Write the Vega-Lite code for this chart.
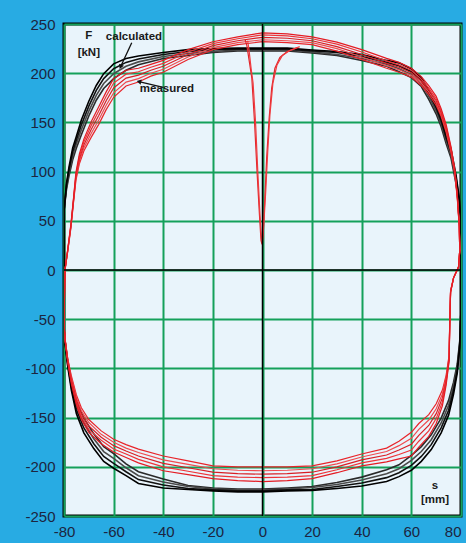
{
"$schema": "https://vega.github.io/schema/vega-lite/v6.json",
"width": 397, "height": 492,
"autosize": "none",
"padding": {"left": 64, "top": 24, "right": 5, "bottom": 27},
"background": "#28abe3",
"config": {
 "view": {"fill": "#e9f4fb", "stroke": "#000000", "strokeWidth": 3},
 "axis": {"grid": true, "gridColor": "#15a05a", "gridWidth": 2, "gridOpacity": 1, "domain": false, "ticks": false, "labelFlush": false, "labelOverlap": false, "labelFont": "Liberation Sans", "labelFontSize": 15, "labelColor": "#1c2540", "title": null}
},
"datasets": {
"calc": [
{"l":"b1","o":1,"s":-80,"F":60},{"l":"b1","o":2,"s":-79,"F":82},{"l":"b1","o":3,"s":-78,"F":95.5},{"l":"b1","o":4,"s":-76.5,"F":112},{"l":"b1","o":5,"s":-75,"F":124},{"l":"b1","o":6,"s":-73,"F":137.5},{"l":"b1","o":7,"s":-70,"F":156.5},{"l":"b1","o":8,"s":-67,"F":172.5},{"l":"b1","o":9,"s":-64,"F":184.5},{"l":"b1","o":10,"s":-60,"F":194.5},{"l":"b1","o":11,"s":-55,"F":203},{"l":"b1","o":12,"s":-50,"F":208.5},{"l":"b1","o":13,"s":-40,"F":215},{"l":"b1","o":14,"s":-30,"F":218},{"l":"b1","o":15,"s":-20,"F":221},{"l":"b1","o":16,"s":-10,"F":222.5},{"l":"b1","o":17,"s":0,"F":222.5},{"l":"b1","o":18,"s":10,"F":222.5},{"l":"b1","o":19,"s":20,"F":220.5},{"l":"b1","o":20,"s":30,"F":218},{"l":"b1","o":21,"s":40,"F":213},{"l":"b1","o":22,"s":50,"F":207},{"l":"b1","o":23,"s":55,"F":201.5},{"l":"b1","o":24,"s":60,"F":195.5},{"l":"b1","o":25,"s":64,"F":186.5},{"l":"b1","o":26,"s":67,"F":173.5},{"l":"b1","o":27,"s":70,"F":158.5},{"l":"b1","o":28,"s":72,"F":145.5},{"l":"b1","o":29,"s":74,"F":128.5},{"l":"b1","o":30,"s":76,"F":113.5},{"l":"b1","o":31,"s":78,"F":87.5},{"l":"b1","o":32,"s":79.3,"F":67},{"l":"b1","o":33,"s":80,"F":50},{"l":"b1","o":34,"s":80,"F":-40},{"l":"b1","o":35,"s":79.5,"F":-72},{"l":"b1","o":36,"s":78.5,"F":-95.5},{"l":"b1","o":37,"s":77,"F":-114},{"l":"b1","o":38,"s":75,"F":-132.5},{"l":"b1","o":39,"s":72,"F":-150.5},{"l":"b1","o":40,"s":68,"F":-167.5},{"l":"b1","o":41,"s":64,"F":-179.5},{"l":"b1","o":42,"s":60,"F":-188.5},{"l":"b1","o":43,"s":55,"F":-198},{"l":"b1","o":44,"s":50,"F":-203},{"l":"b1","o":45,"s":40,"F":-210.5},{"l":"b1","o":46,"s":30,"F":-216},{"l":"b1","o":47,"s":20,"F":-220},{"l":"b1","o":48,"s":10,"F":-221.5},{"l":"b1","o":49,"s":0,"F":-222.5},{"l":"b1","o":50,"s":-10,"F":-222.5},{"l":"b1","o":51,"s":-20,"F":-221.5},{"l":"b1","o":52,"s":-30,"F":-219},{"l":"b1","o":53,"s":-40,"F":-212.5},{"l":"b1","o":54,"s":-50,"F":-205},{"l":"b1","o":55,"s":-55,"F":-197},{"l":"b1","o":56,"s":-60,"F":-186.5},{"l":"b1","o":57,"s":-64,"F":-179.5},{"l":"b1","o":58,"s":-68,"F":-166.5},{"l":"b1","o":59,"s":-72,"F":-150.5},{"l":"b1","o":60,"s":-75,"F":-134},{"l":"b1","o":61,"s":-77,"F":-113.5},{"l":"b1","o":62,"s":-78.5,"F":-92},{"l":"b1","o":63,"s":-79.5,"F":-73.5},{"l":"b1","o":64,"s":-80,"F":-60},{"l":"b1","o":65,"s":-80,"F":60},
{"l":"b2","o":1,"s":-80,"F":60},{"l":"b2","o":2,"s":-79,"F":84},{"l":"b2","o":3,"s":-78,"F":98.5},{"l":"b2","o":4,"s":-76.5,"F":116},{"l":"b2","o":5,"s":-75,"F":128},{"l":"b2","o":6,"s":-73,"F":142.5},{"l":"b2","o":7,"s":-70,"F":161.5},{"l":"b2","o":8,"s":-67,"F":177.5},{"l":"b2","o":9,"s":-64,"F":189.5},{"l":"b2","o":10,"s":-60,"F":199.5},{"l":"b2","o":11,"s":-55,"F":207},{"l":"b2","o":12,"s":-50,"F":211.5},{"l":"b2","o":13,"s":-40,"F":217},{"l":"b2","o":14,"s":-30,"F":220},{"l":"b2","o":15,"s":-20,"F":222},{"l":"b2","o":16,"s":-10,"F":223.5},{"l":"b2","o":17,"s":0,"F":223.5},{"l":"b2","o":18,"s":10,"F":223.5},{"l":"b2","o":19,"s":20,"F":221.5},{"l":"b2","o":20,"s":30,"F":219},{"l":"b2","o":21,"s":40,"F":215},{"l":"b2","o":22,"s":50,"F":209},{"l":"b2","o":23,"s":55,"F":204.5},{"l":"b2","o":24,"s":60,"F":198.5},{"l":"b2","o":25,"s":64,"F":189.5},{"l":"b2","o":26,"s":67,"F":176.5},{"l":"b2","o":27,"s":70,"F":161.5},{"l":"b2","o":28,"s":72,"F":148.5},{"l":"b2","o":29,"s":74,"F":131.5},{"l":"b2","o":30,"s":76,"F":116.5},{"l":"b2","o":31,"s":78,"F":90.5},{"l":"b2","o":32,"s":79.3,"F":69},{"l":"b2","o":33,"s":80,"F":50},{"l":"b2","o":34,"s":80,"F":-40},{"l":"b2","o":35,"s":79.5,"F":-74},{"l":"b2","o":36,"s":78.5,"F":-98.5},{"l":"b2","o":37,"s":77,"F":-118},{"l":"b2","o":38,"s":75,"F":-137.5},{"l":"b2","o":39,"s":72,"F":-155.5},{"l":"b2","o":40,"s":68,"F":-172.5},{"l":"b2","o":41,"s":64,"F":-184.5},{"l":"b2","o":42,"s":60,"F":-193.5},{"l":"b2","o":43,"s":55,"F":-202},{"l":"b2","o":44,"s":50,"F":-207},{"l":"b2","o":45,"s":40,"F":-213.5},{"l":"b2","o":46,"s":30,"F":-218},{"l":"b2","o":47,"s":20,"F":-221},{"l":"b2","o":48,"s":10,"F":-222.5},{"l":"b2","o":49,"s":0,"F":-223.5},{"l":"b2","o":50,"s":-10,"F":-223.5},{"l":"b2","o":51,"s":-20,"F":-222.5},{"l":"b2","o":52,"s":-30,"F":-220},{"l":"b2","o":53,"s":-40,"F":-215.5},{"l":"b2","o":54,"s":-50,"F":-209},{"l":"b2","o":55,"s":-55,"F":-201},{"l":"b2","o":56,"s":-60,"F":-191.5},{"l":"b2","o":57,"s":-64,"F":-184.5},{"l":"b2","o":58,"s":-68,"F":-171.5},{"l":"b2","o":59,"s":-72,"F":-155.5},{"l":"b2","o":60,"s":-75,"F":-138},{"l":"b2","o":61,"s":-77,"F":-116.5},{"l":"b2","o":62,"s":-78.5,"F":-94},{"l":"b2","o":63,"s":-79.5,"F":-74.5},{"l":"b2","o":64,"s":-80,"F":-60},{"l":"b2","o":65,"s":-80,"F":60},
{"l":"b3","o":1,"s":-80,"F":60},{"l":"b3","o":2,"s":-79,"F":86},{"l":"b3","o":3,"s":-78,"F":101.5},{"l":"b3","o":4,"s":-76.5,"F":120},{"l":"b3","o":5,"s":-75,"F":132},{"l":"b3","o":6,"s":-73,"F":147.5},{"l":"b3","o":7,"s":-70,"F":166.5},{"l":"b3","o":8,"s":-67,"F":182.5},{"l":"b3","o":9,"s":-64,"F":194.5},{"l":"b3","o":10,"s":-60,"F":204.5},{"l":"b3","o":11,"s":-55,"F":211},{"l":"b3","o":12,"s":-50,"F":214.5},{"l":"b3","o":13,"s":-40,"F":219},{"l":"b3","o":14,"s":-30,"F":222},{"l":"b3","o":15,"s":-20,"F":224},{"l":"b3","o":16,"s":-10,"F":224.5},{"l":"b3","o":17,"s":0,"F":224.5},{"l":"b3","o":18,"s":10,"F":224.5},{"l":"b3","o":19,"s":20,"F":222.5},{"l":"b3","o":20,"s":30,"F":221},{"l":"b3","o":21,"s":40,"F":217},{"l":"b3","o":22,"s":50,"F":211},{"l":"b3","o":23,"s":55,"F":207.5},{"l":"b3","o":24,"s":60,"F":201.5},{"l":"b3","o":25,"s":64,"F":192.5},{"l":"b3","o":26,"s":67,"F":179.5},{"l":"b3","o":27,"s":70,"F":164.5},{"l":"b3","o":28,"s":72,"F":151.5},{"l":"b3","o":29,"s":74,"F":134.5},{"l":"b3","o":30,"s":76,"F":119.5},{"l":"b3","o":31,"s":78,"F":93.5},{"l":"b3","o":32,"s":79.3,"F":71},{"l":"b3","o":33,"s":80,"F":50},{"l":"b3","o":34,"s":80,"F":-40},{"l":"b3","o":35,"s":79.5,"F":-76},{"l":"b3","o":36,"s":78.5,"F":-101.5},{"l":"b3","o":37,"s":77,"F":-122},{"l":"b3","o":38,"s":75,"F":-142.5},{"l":"b3","o":39,"s":72,"F":-160.5},{"l":"b3","o":40,"s":68,"F":-177.5},{"l":"b3","o":41,"s":64,"F":-189.5},{"l":"b3","o":42,"s":60,"F":-198.5},{"l":"b3","o":43,"s":55,"F":-206},{"l":"b3","o":44,"s":50,"F":-211},{"l":"b3","o":45,"s":40,"F":-216.5},{"l":"b3","o":46,"s":30,"F":-220},{"l":"b3","o":47,"s":20,"F":-223},{"l":"b3","o":48,"s":10,"F":-223.5},{"l":"b3","o":49,"s":0,"F":-224.5},{"l":"b3","o":50,"s":-10,"F":-224.5},{"l":"b3","o":51,"s":-20,"F":-223.5},{"l":"b3","o":52,"s":-30,"F":-222},{"l":"b3","o":53,"s":-40,"F":-218.5},{"l":"b3","o":54,"s":-50,"F":-213},{"l":"b3","o":55,"s":-55,"F":-205},{"l":"b3","o":56,"s":-60,"F":-196.5},{"l":"b3","o":57,"s":-64,"F":-189.5},{"l":"b3","o":58,"s":-68,"F":-176.5},{"l":"b3","o":59,"s":-72,"F":-160.5},{"l":"b3","o":60,"s":-75,"F":-142},{"l":"b3","o":61,"s":-77,"F":-119.5},{"l":"b3","o":62,"s":-78.5,"F":-96},{"l":"b3","o":63,"s":-79.5,"F":-75.5},{"l":"b3","o":64,"s":-80,"F":-60},{"l":"b3","o":65,"s":-80,"F":60},
{"l":"b4","o":1,"s":-80,"F":60},{"l":"b4","o":2,"s":-79,"F":88},{"l":"b4","o":3,"s":-78,"F":104.5},{"l":"b4","o":4,"s":-76.5,"F":124},{"l":"b4","o":5,"s":-75,"F":136},{"l":"b4","o":6,"s":-73,"F":152.5},{"l":"b4","o":7,"s":-70,"F":171.5},{"l":"b4","o":8,"s":-67,"F":187.5},{"l":"b4","o":9,"s":-64,"F":199.5},{"l":"b4","o":10,"s":-60,"F":209.5},{"l":"b4","o":11,"s":-55,"F":215},{"l":"b4","o":12,"s":-50,"F":217.5},{"l":"b4","o":13,"s":-40,"F":221},{"l":"b4","o":14,"s":-30,"F":224},{"l":"b4","o":15,"s":-20,"F":225},{"l":"b4","o":16,"s":-10,"F":225.5},{"l":"b4","o":17,"s":0,"F":225.5},{"l":"b4","o":18,"s":10,"F":225.5},{"l":"b4","o":19,"s":20,"F":223.5},{"l":"b4","o":20,"s":30,"F":222},{"l":"b4","o":21,"s":40,"F":219},{"l":"b4","o":22,"s":50,"F":213},{"l":"b4","o":23,"s":55,"F":210.5},{"l":"b4","o":24,"s":60,"F":204.5},{"l":"b4","o":25,"s":64,"F":195.5},{"l":"b4","o":26,"s":67,"F":182.5},{"l":"b4","o":27,"s":70,"F":167.5},{"l":"b4","o":28,"s":72,"F":154.5},{"l":"b4","o":29,"s":74,"F":137.5},{"l":"b4","o":30,"s":76,"F":122.5},{"l":"b4","o":31,"s":78,"F":96.5},{"l":"b4","o":32,"s":79.3,"F":73},{"l":"b4","o":33,"s":80,"F":50},{"l":"b4","o":34,"s":80,"F":-40},{"l":"b4","o":35,"s":79.5,"F":-78},{"l":"b4","o":36,"s":78.5,"F":-104.5},{"l":"b4","o":37,"s":77,"F":-126},{"l":"b4","o":38,"s":75,"F":-147.5},{"l":"b4","o":39,"s":72,"F":-165.5},{"l":"b4","o":40,"s":68,"F":-182.5},{"l":"b4","o":41,"s":64,"F":-194.5},{"l":"b4","o":42,"s":60,"F":-203.5},{"l":"b4","o":43,"s":55,"F":-210},{"l":"b4","o":44,"s":50,"F":-215},{"l":"b4","o":45,"s":40,"F":-219.5},{"l":"b4","o":46,"s":30,"F":-222},{"l":"b4","o":47,"s":20,"F":-224},{"l":"b4","o":48,"s":10,"F":-224.5},{"l":"b4","o":49,"s":0,"F":-225.5},{"l":"b4","o":50,"s":-10,"F":-225.5},{"l":"b4","o":51,"s":-20,"F":-224.5},{"l":"b4","o":52,"s":-30,"F":-223},{"l":"b4","o":53,"s":-40,"F":-221.5},{"l":"b4","o":54,"s":-50,"F":-217},{"l":"b4","o":55,"s":-55,"F":-209},{"l":"b4","o":56,"s":-60,"F":-201.5},{"l":"b4","o":57,"s":-64,"F":-194.5},{"l":"b4","o":58,"s":-68,"F":-181.5},{"l":"b4","o":59,"s":-72,"F":-165.5},{"l":"b4","o":60,"s":-75,"F":-146},{"l":"b4","o":61,"s":-77,"F":-122.5},{"l":"b4","o":62,"s":-78.5,"F":-98},{"l":"b4","o":63,"s":-79.5,"F":-76.5},{"l":"b4","o":64,"s":-80,"F":-60},{"l":"b4","o":65,"s":-80,"F":60}
],
"meas": [
{"l":"r1","o":1,"s":-79.6,"F":0},{"l":"r1","o":2,"s":-78.5,"F":19},{"l":"r1","o":3,"s":-77.2,"F":43},{"l":"r1","o":4,"s":-76.2,"F":68},{"l":"r1","o":5,"s":-75.2,"F":91},{"l":"r1","o":6,"s":-73.8,"F":108},{"l":"r1","o":7,"s":-72,"F":121},{"l":"r1","o":8,"s":-69,"F":135},{"l":"r1","o":9,"s":-66,"F":148},{"l":"r1","o":10,"s":-63,"F":163},{"l":"r1","o":11,"s":-60,"F":175.5},{"l":"r1","o":12,"s":-55,"F":187},{"l":"r1","o":13,"s":-50,"F":191},{"l":"r1","o":14,"s":-45,"F":197},{"l":"r1","o":15,"s":-40,"F":201},{"l":"r1","o":16,"s":-30,"F":214},{"l":"r1","o":17,"s":-20,"F":224},{"l":"r1","o":18,"s":-10,"F":229},{"l":"r1","o":19,"s":0,"F":232},{"l":"r1","o":20,"s":10,"F":231},{"l":"r1","o":21,"s":20,"F":229},{"l":"r1","o":22,"s":30,"F":222.5},{"l":"r1","o":23,"s":40,"F":214},{"l":"r1","o":24,"s":50,"F":205},{"l":"r1","o":25,"s":55,"F":201},{"l":"r1","o":26,"s":60,"F":196},{"l":"r1","o":27,"s":64,"F":187.5},{"l":"r1","o":28,"s":67,"F":178.5},{"l":"r1","o":29,"s":70,"F":167.5},{"l":"r1","o":30,"s":72,"F":156},{"l":"r1","o":31,"s":74,"F":140},{"l":"r1","o":32,"s":76,"F":119},{"l":"r1","o":33,"s":77.5,"F":98},{"l":"r1","o":34,"s":78.5,"F":73},{"l":"r1","o":35,"s":79.3,"F":44},{"l":"r1","o":36,"s":79.5,"F":20},{"l":"r1","o":37,"s":79,"F":3},{"l":"r1","o":38,"s":77,"F":-8},{"l":"r1","o":39,"s":75.8,"F":-21},{"l":"r1","o":40,"s":75.5,"F":-48},{"l":"r1","o":41,"s":75.2,"F":-87},{"l":"r1","o":42,"s":74,"F":-107},{"l":"r1","o":43,"s":72.5,"F":-122},{"l":"r1","o":44,"s":70,"F":-136},{"l":"r1","o":45,"s":67,"F":-147},{"l":"r1","o":46,"s":63,"F":-156},{"l":"r1","o":47,"s":60,"F":-165},{"l":"r1","o":48,"s":55,"F":-174},{"l":"r1","o":49,"s":50,"F":-181},{"l":"r1","o":50,"s":40,"F":-187},{"l":"r1","o":51,"s":30,"F":-194},{"l":"r1","o":52,"s":20,"F":-199},{"l":"r1","o":53,"s":10,"F":-200},{"l":"r1","o":54,"s":0,"F":-200},{"l":"r1","o":55,"s":-10,"F":-200},{"l":"r1","o":56,"s":-20,"F":-199},{"l":"r1","o":57,"s":-30,"F":-194},{"l":"r1","o":58,"s":-40,"F":-189},{"l":"r1","o":59,"s":-50,"F":-182},{"l":"r1","o":60,"s":-55,"F":-177.5},{"l":"r1","o":61,"s":-60,"F":-172},{"l":"r1","o":62,"s":-65,"F":-163.5},{"l":"r1","o":63,"s":-70,"F":-152},{"l":"r1","o":64,"s":-73,"F":-140},{"l":"r1","o":65,"s":-75,"F":-127},{"l":"r1","o":66,"s":-77,"F":-108},{"l":"r1","o":67,"s":-78.5,"F":-90},{"l":"r1","o":68,"s":-79.5,"F":-71},{"l":"r1","o":69,"s":-80,"F":-55},{"l":"r1","o":70,"s":-79.8,"F":-25},{"l":"r1","o":71,"s":-79.6,"F":0},
{"l":"r2","o":1,"s":-79.6,"F":0},{"l":"r2","o":2,"s":-78.5,"F":19.5},{"l":"r2","o":3,"s":-77.2,"F":44},{"l":"r2","o":4,"s":-76.2,"F":69},{"l":"r2","o":5,"s":-75.2,"F":93},{"l":"r2","o":6,"s":-73.8,"F":110.5},{"l":"r2","o":7,"s":-72,"F":124},{"l":"r2","o":8,"s":-69,"F":139},{"l":"r2","o":9,"s":-66,"F":152.5},{"l":"r2","o":10,"s":-63,"F":167.5},{"l":"r2","o":11,"s":-60,"F":180},{"l":"r2","o":12,"s":-55,"F":191},{"l":"r2","o":13,"s":-50,"F":194.5},{"l":"r2","o":14,"s":-45,"F":200},{"l":"r2","o":15,"s":-40,"F":204},{"l":"r2","o":16,"s":-30,"F":216.5},{"l":"r2","o":17,"s":-20,"F":226},{"l":"r2","o":18,"s":-10,"F":231},{"l":"r2","o":19,"s":0,"F":234},{"l":"r2","o":20,"s":10,"F":233},{"l":"r2","o":21,"s":20,"F":231},{"l":"r2","o":22,"s":30,"F":225},{"l":"r2","o":23,"s":40,"F":216.5},{"l":"r2","o":24,"s":50,"F":207.5},{"l":"r2","o":25,"s":55,"F":203.5},{"l":"r2","o":26,"s":60,"F":198},{"l":"r2","o":27,"s":64,"F":190},{"l":"r2","o":28,"s":67,"F":181},{"l":"r2","o":29,"s":70,"F":170},{"l":"r2","o":30,"s":72,"F":158},{"l":"r2","o":31,"s":74,"F":142},{"l":"r2","o":32,"s":76,"F":120.5},{"l":"r2","o":33,"s":77.5,"F":99},{"l":"r2","o":34,"s":78.5,"F":74},{"l":"r2","o":35,"s":79.3,"F":44.5},{"l":"r2","o":36,"s":79.5,"F":20},{"l":"r2","o":37,"s":79,"F":3},{"l":"r2","o":38,"s":77,"F":-8},{"l":"r2","o":39,"s":75.8,"F":-21.5},{"l":"r2","o":40,"s":75.5,"F":-49},{"l":"r2","o":41,"s":75.2,"F":-88.5},{"l":"r2","o":42,"s":74,"F":-109.5},{"l":"r2","o":43,"s":72.5,"F":-126},{"l":"r2","o":44,"s":70,"F":-141},{"l":"r2","o":45,"s":67,"F":-152.5},{"l":"r2","o":46,"s":63,"F":-162},{"l":"r2","o":47,"s":60,"F":-171},{"l":"r2","o":48,"s":55,"F":-178.5},{"l":"r2","o":49,"s":50,"F":-184.5},{"l":"r2","o":50,"s":40,"F":-190},{"l":"r2","o":51,"s":30,"F":-197},{"l":"r2","o":52,"s":20,"F":-202},{"l":"r2","o":53,"s":10,"F":-203.5},{"l":"r2","o":54,"s":0,"F":-204},{"l":"r2","o":55,"s":-10,"F":-203.5},{"l":"r2","o":56,"s":-20,"F":-202},{"l":"r2","o":57,"s":-30,"F":-197.5},{"l":"r2","o":58,"s":-40,"F":-193},{"l":"r2","o":59,"s":-50,"F":-185.5},{"l":"r2","o":60,"s":-55,"F":-181},{"l":"r2","o":61,"s":-60,"F":-175},{"l":"r2","o":62,"s":-65,"F":-167},{"l":"r2","o":63,"s":-70,"F":-155},{"l":"r2","o":64,"s":-73,"F":-143},{"l":"r2","o":65,"s":-75,"F":-129.5},{"l":"r2","o":66,"s":-77,"F":-110},{"l":"r2","o":67,"s":-78.5,"F":-91},{"l":"r2","o":68,"s":-79.5,"F":-71.5},{"l":"r2","o":69,"s":-80,"F":-55},{"l":"r2","o":70,"s":-79.8,"F":-25},{"l":"r2","o":71,"s":-79.6,"F":0},
{"l":"r3","o":1,"s":-79.6,"F":0},{"l":"r3","o":2,"s":-78.5,"F":20},{"l":"r3","o":3,"s":-77.2,"F":45},{"l":"r3","o":4,"s":-76.2,"F":70},{"l":"r3","o":5,"s":-75.2,"F":95},{"l":"r3","o":6,"s":-73.8,"F":113},{"l":"r3","o":7,"s":-72,"F":127},{"l":"r3","o":8,"s":-69,"F":143},{"l":"r3","o":9,"s":-66,"F":157},{"l":"r3","o":10,"s":-63,"F":172},{"l":"r3","o":11,"s":-60,"F":185},{"l":"r3","o":12,"s":-55,"F":195},{"l":"r3","o":13,"s":-50,"F":198},{"l":"r3","o":14,"s":-45,"F":203},{"l":"r3","o":15,"s":-40,"F":207},{"l":"r3","o":16,"s":-30,"F":219},{"l":"r3","o":17,"s":-20,"F":228},{"l":"r3","o":18,"s":-10,"F":233},{"l":"r3","o":19,"s":0,"F":236.5},{"l":"r3","o":20,"s":10,"F":235.5},{"l":"r3","o":21,"s":20,"F":233},{"l":"r3","o":22,"s":30,"F":227},{"l":"r3","o":23,"s":40,"F":219},{"l":"r3","o":24,"s":50,"F":210},{"l":"r3","o":25,"s":55,"F":206},{"l":"r3","o":26,"s":60,"F":200.5},{"l":"r3","o":27,"s":64,"F":192},{"l":"r3","o":28,"s":67,"F":183},{"l":"r3","o":29,"s":70,"F":172},{"l":"r3","o":30,"s":72,"F":160},{"l":"r3","o":31,"s":74,"F":144},{"l":"r3","o":32,"s":76,"F":122},{"l":"r3","o":33,"s":77.5,"F":100},{"l":"r3","o":34,"s":78.5,"F":75},{"l":"r3","o":35,"s":79.3,"F":45},{"l":"r3","o":36,"s":79.5,"F":20},{"l":"r3","o":37,"s":79,"F":3},{"l":"r3","o":38,"s":77,"F":-8},{"l":"r3","o":39,"s":75.8,"F":-22},{"l":"r3","o":40,"s":75.5,"F":-50},{"l":"r3","o":41,"s":75.2,"F":-90},{"l":"r3","o":42,"s":74,"F":-112},{"l":"r3","o":43,"s":72.5,"F":-130},{"l":"r3","o":44,"s":70,"F":-146},{"l":"r3","o":45,"s":67,"F":-158},{"l":"r3","o":46,"s":63,"F":-168},{"l":"r3","o":47,"s":60,"F":-177},{"l":"r3","o":48,"s":55,"F":-183},{"l":"r3","o":49,"s":50,"F":-188},{"l":"r3","o":50,"s":40,"F":-193},{"l":"r3","o":51,"s":30,"F":-200},{"l":"r3","o":52,"s":20,"F":-205.5},{"l":"r3","o":53,"s":10,"F":-207},{"l":"r3","o":54,"s":0,"F":-207.5},{"l":"r3","o":55,"s":-10,"F":-207},{"l":"r3","o":56,"s":-20,"F":-205.5},{"l":"r3","o":57,"s":-30,"F":-201},{"l":"r3","o":58,"s":-40,"F":-196.5},{"l":"r3","o":59,"s":-50,"F":-189},{"l":"r3","o":60,"s":-55,"F":-184},{"l":"r3","o":61,"s":-60,"F":-178.5},{"l":"r3","o":62,"s":-65,"F":-170},{"l":"r3","o":63,"s":-70,"F":-158.5},{"l":"r3","o":64,"s":-73,"F":-146},{"l":"r3","o":65,"s":-75,"F":-132},{"l":"r3","o":66,"s":-77,"F":-112},{"l":"r3","o":67,"s":-78.5,"F":-92},{"l":"r3","o":68,"s":-79.5,"F":-72},{"l":"r3","o":69,"s":-80,"F":-55},{"l":"r3","o":70,"s":-79.8,"F":-25},{"l":"r3","o":71,"s":-79.6,"F":0},
{"l":"r4","o":1,"s":-79.6,"F":0},{"l":"r4","o":2,"s":-78.5,"F":20.5},{"l":"r4","o":3,"s":-77.2,"F":46},{"l":"r4","o":4,"s":-76.2,"F":71},{"l":"r4","o":5,"s":-75.2,"F":97},{"l":"r4","o":6,"s":-73.8,"F":115.5},{"l":"r4","o":7,"s":-72,"F":130},{"l":"r4","o":8,"s":-69,"F":147},{"l":"r4","o":9,"s":-66,"F":161.5},{"l":"r4","o":10,"s":-63,"F":176.5},{"l":"r4","o":11,"s":-60,"F":190},{"l":"r4","o":12,"s":-55,"F":199},{"l":"r4","o":13,"s":-50,"F":201.5},{"l":"r4","o":14,"s":-45,"F":206},{"l":"r4","o":15,"s":-40,"F":210},{"l":"r4","o":16,"s":-30,"F":221.5},{"l":"r4","o":17,"s":-20,"F":230},{"l":"r4","o":18,"s":-10,"F":235},{"l":"r4","o":19,"s":0,"F":239},{"l":"r4","o":20,"s":10,"F":238},{"l":"r4","o":21,"s":20,"F":235},{"l":"r4","o":22,"s":30,"F":229.5},{"l":"r4","o":23,"s":40,"F":221.5},{"l":"r4","o":24,"s":50,"F":212.5},{"l":"r4","o":25,"s":55,"F":208.5},{"l":"r4","o":26,"s":60,"F":203},{"l":"r4","o":27,"s":64,"F":194},{"l":"r4","o":28,"s":67,"F":185},{"l":"r4","o":29,"s":70,"F":174},{"l":"r4","o":30,"s":72,"F":162},{"l":"r4","o":31,"s":74,"F":146},{"l":"r4","o":32,"s":76,"F":123.5},{"l":"r4","o":33,"s":77.5,"F":101},{"l":"r4","o":34,"s":78.5,"F":76},{"l":"r4","o":35,"s":79.3,"F":45.5},{"l":"r4","o":36,"s":79.5,"F":20},{"l":"r4","o":37,"s":79,"F":3},{"l":"r4","o":38,"s":77,"F":-8},{"l":"r4","o":39,"s":75.8,"F":-22.5},{"l":"r4","o":40,"s":75.5,"F":-51},{"l":"r4","o":41,"s":75.2,"F":-91.5},{"l":"r4","o":42,"s":74,"F":-114.5},{"l":"r4","o":43,"s":72.5,"F":-134},{"l":"r4","o":44,"s":70,"F":-151},{"l":"r4","o":45,"s":67,"F":-163.5},{"l":"r4","o":46,"s":63,"F":-174},{"l":"r4","o":47,"s":60,"F":-183},{"l":"r4","o":48,"s":55,"F":-187.5},{"l":"r4","o":49,"s":50,"F":-191.5},{"l":"r4","o":50,"s":40,"F":-196},{"l":"r4","o":51,"s":30,"F":-203},{"l":"r4","o":52,"s":20,"F":-209},{"l":"r4","o":53,"s":10,"F":-210.5},{"l":"r4","o":54,"s":0,"F":-211},{"l":"r4","o":55,"s":-10,"F":-210.5},{"l":"r4","o":56,"s":-20,"F":-209},{"l":"r4","o":57,"s":-30,"F":-204.5},{"l":"r4","o":58,"s":-40,"F":-200},{"l":"r4","o":59,"s":-50,"F":-192.5},{"l":"r4","o":60,"s":-55,"F":-187},{"l":"r4","o":61,"s":-60,"F":-182},{"l":"r4","o":62,"s":-65,"F":-173},{"l":"r4","o":63,"s":-70,"F":-162},{"l":"r4","o":64,"s":-73,"F":-149},{"l":"r4","o":65,"s":-75,"F":-134.5},{"l":"r4","o":66,"s":-77,"F":-114},{"l":"r4","o":67,"s":-78.5,"F":-93},{"l":"r4","o":68,"s":-79.5,"F":-72.5},{"l":"r4","o":69,"s":-80,"F":-55},{"l":"r4","o":70,"s":-79.8,"F":-25},{"l":"r4","o":71,"s":-79.6,"F":0},
{"l":"r5","o":1,"s":-79.6,"F":0},{"l":"r5","o":2,"s":-78.5,"F":21},{"l":"r5","o":3,"s":-77.2,"F":47},{"l":"r5","o":4,"s":-76.2,"F":72},{"l":"r5","o":5,"s":-75.2,"F":99},{"l":"r5","o":6,"s":-73.8,"F":118},{"l":"r5","o":7,"s":-72,"F":133},{"l":"r5","o":8,"s":-69,"F":151},{"l":"r5","o":9,"s":-66,"F":166},{"l":"r5","o":10,"s":-63,"F":181},{"l":"r5","o":11,"s":-60,"F":194.5},{"l":"r5","o":12,"s":-55,"F":203},{"l":"r5","o":13,"s":-50,"F":205},{"l":"r5","o":14,"s":-45,"F":209},{"l":"r5","o":15,"s":-40,"F":213},{"l":"r5","o":16,"s":-30,"F":224},{"l":"r5","o":17,"s":-20,"F":232},{"l":"r5","o":18,"s":-10,"F":237},{"l":"r5","o":19,"s":0,"F":241},{"l":"r5","o":20,"s":10,"F":240},{"l":"r5","o":21,"s":20,"F":237},{"l":"r5","o":22,"s":30,"F":231.5},{"l":"r5","o":23,"s":40,"F":224},{"l":"r5","o":24,"s":50,"F":215},{"l":"r5","o":25,"s":55,"F":211},{"l":"r5","o":26,"s":60,"F":205},{"l":"r5","o":27,"s":64,"F":196.5},{"l":"r5","o":28,"s":67,"F":187.5},{"l":"r5","o":29,"s":70,"F":176.5},{"l":"r5","o":30,"s":72,"F":164},{"l":"r5","o":31,"s":74,"F":148},{"l":"r5","o":32,"s":76,"F":125},{"l":"r5","o":33,"s":77.5,"F":102},{"l":"r5","o":34,"s":78.5,"F":77},{"l":"r5","o":35,"s":79.3,"F":46},{"l":"r5","o":36,"s":79.5,"F":20},{"l":"r5","o":37,"s":79,"F":3},{"l":"r5","o":38,"s":77,"F":-8},{"l":"r5","o":39,"s":75.8,"F":-23},{"l":"r5","o":40,"s":75.5,"F":-52},{"l":"r5","o":41,"s":75.2,"F":-93},{"l":"r5","o":42,"s":74,"F":-117},{"l":"r5","o":43,"s":72.5,"F":-138},{"l":"r5","o":44,"s":70,"F":-156},{"l":"r5","o":45,"s":67,"F":-169},{"l":"r5","o":46,"s":63,"F":-180},{"l":"r5","o":47,"s":60,"F":-189},{"l":"r5","o":48,"s":55,"F":-192},{"l":"r5","o":49,"s":50,"F":-195},{"l":"r5","o":50,"s":40,"F":-199},{"l":"r5","o":51,"s":30,"F":-206},{"l":"r5","o":52,"s":20,"F":-212},{"l":"r5","o":53,"s":10,"F":-214},{"l":"r5","o":54,"s":0,"F":-215},{"l":"r5","o":55,"s":-10,"F":-214},{"l":"r5","o":56,"s":-20,"F":-212},{"l":"r5","o":57,"s":-30,"F":-208},{"l":"r5","o":58,"s":-40,"F":-204},{"l":"r5","o":59,"s":-50,"F":-196},{"l":"r5","o":60,"s":-55,"F":-190.5},{"l":"r5","o":61,"s":-60,"F":-185},{"l":"r5","o":62,"s":-65,"F":-176.5},{"l":"r5","o":63,"s":-70,"F":-165},{"l":"r5","o":64,"s":-73,"F":-152},{"l":"r5","o":65,"s":-75,"F":-137},{"l":"r5","o":66,"s":-77,"F":-116},{"l":"r5","o":67,"s":-78.5,"F":-94},{"l":"r5","o":68,"s":-79.5,"F":-73},{"l":"r5","o":69,"s":-80,"F":-55},{"l":"r5","o":70,"s":-79.8,"F":-25},{"l":"r5","o":71,"s":-79.6,"F":0},
{"l":"v1","o":1,"s":-7,"F":234},{"l":"v1","o":2,"s":-6.3,"F":228},{"l":"v1","o":3,"s":-5.2,"F":210},{"l":"v1","o":4,"s":-4.3,"F":195},{"l":"v1","o":5,"s":-3.2,"F":150},{"l":"v1","o":6,"s":-2.2,"F":100},{"l":"v1","o":7,"s":-1.2,"F":55},{"l":"v1","o":8,"s":-0.6,"F":30},{"l":"v1","o":9,"s":-0.2,"F":26},{"l":"v1","o":10,"s":0.3,"F":40},{"l":"v1","o":11,"s":1,"F":75},{"l":"v1","o":12,"s":1.7,"F":115},{"l":"v1","o":13,"s":2.7,"F":155},{"l":"v1","o":14,"s":3.7,"F":185},{"l":"v1","o":15,"s":5,"F":205},{"l":"v1","o":16,"s":7,"F":216},{"l":"v1","o":17,"s":10,"F":222},{"l":"v1","o":18,"s":14,"F":226},
{"l":"v2","o":1,"s":-6,"F":233},{"l":"v2","o":2,"s":-5.5,"F":225},{"l":"v2","o":3,"s":-4.6,"F":205},{"l":"v2","o":4,"s":-3.8,"F":190},{"l":"v2","o":5,"s":-2.8,"F":150},{"l":"v2","o":6,"s":-1.9,"F":100},{"l":"v2","o":7,"s":-1,"F":55},{"l":"v2","o":8,"s":-0.4,"F":32},{"l":"v2","o":9,"s":0,"F":28},{"l":"v2","o":10,"s":0.5,"F":45},{"l":"v2","o":11,"s":1.3,"F":80},{"l":"v2","o":12,"s":2.1,"F":120},{"l":"v2","o":13,"s":3,"F":158},{"l":"v2","o":14,"s":4.2,"F":190},{"l":"v2","o":15,"s":5.8,"F":208},{"l":"v2","o":16,"s":8,"F":218},{"l":"v2","o":17,"s":11,"F":223},{"l":"v2","o":18,"s":15,"F":227}
],
"arrows": [
{"s":-52.7,"F":231,"s2":-57.2,"F2":206.5,"a":204},
{"s":-40,"F":185.7,"s2":-49.8,"F2":191.5,"a":283}
],
"labels": [
{"t":"F","s":-70,"F":237.5,"al":"center"},
{"t":"[kN]","s":-70,"F":221,"al":"center"},
{"t":"calculated","s":-51.8,"F":236.8,"al":"left"},
{"t":"measured","s":-38.5,"F":184,"al":"left"},
{"t":"s","s":69.5,"F":-219.5,"al":"center"},
{"t":"[mm]","s":69.5,"F":-233.5,"al":"center"}
]
},
"layer": [
{
 "data": {"name": "calc"},
 "mark": {"type": "line", "strokeWidth": 1.6, "clip": true},
 "encoding": {
  "x": {"field": "s", "type": "quantitative", "scale": {"domain": [-80, 80], "nice": false, "zero": false},
        "axis": {"values": [-80,-60,-40,-20,0,20,40,60,80], "labelPadding": 8,
                 "labelAlign": {"condition": {"test": "datum.value == 80", "value": "right"}, "value": "center"},
                 "labelExpr": "datum.value < 0 ? '-' + abs(datum.value) : '' + datum.value"}},
  "y": {"field": "F", "type": "quantitative", "scale": {"domain": [-250, 250], "nice": false, "zero": false},
        "axis": {"values": [-250,-200,-150,-100,-50,0,50,100,150,200,250], "labelPadding": 9, "labelExpr": "datum.value < 0 ? '-' + abs(datum.value) : '' + datum.value"}},
  "detail": {"field": "l"},
  "order": {"field": "o", "type": "quantitative"},
  "color": {"field": "l", "type": "nominal", "legend": null,
            "scale": {"domain": ["b1","b2","b3","b4"], "range": ["#2a2a2a","#4a4a4a","#111111","#000000"]}}
 }
},
{
 "data": {"name": "meas"},
 "mark": {"type": "line", "strokeWidth": 1.2, "clip": true},
 "encoding": {
  "x": {"field": "s", "type": "quantitative"},
  "y": {"field": "F", "type": "quantitative"},
  "detail": {"field": "l"},
  "order": {"field": "o", "type": "quantitative"},
  "color": {"field": "l", "type": "nominal", "legend": null,
            "scale": {"domain": ["r1","r2","r3","r4","r5","v1","v2"], "range": ["#e8242a","#f04a4e","#d91e24","#ee3338","#e41b23","#e0262b","#f03a3e"]}}
 }
},
{
 "data": {"values": [{"z": 0}]},
 "mark": {"type": "rule", "color": "#000000", "strokeWidth": 1.5},
 "encoding": {"x": {"field": "z", "type": "quantitative"}}
},
{
 "data": {"values": [{"z": 0}]},
 "mark": {"type": "rule", "color": "#000000", "strokeWidth": 1.5},
 "encoding": {"y": {"field": "z", "type": "quantitative"}}
},
{
 "data": {"name": "arrows"},
 "mark": {"type": "rule", "color": "#111111", "strokeWidth": 1.3},
 "encoding": {
  "x": {"field": "s", "type": "quantitative"}, "y": {"field": "F", "type": "quantitative"},
  "x2": {"field": "s2"}, "y2": {"field": "F2"}
 }
},
{
 "data": {"name": "arrows"},
 "mark": {"type": "point", "shape": "triangle-up", "filled": true, "color": "#111111", "size": 28, "opacity": 1},
 "encoding": {
  "x": {"field": "s2", "type": "quantitative"}, "y": {"field": "F2", "type": "quantitative"},
  "angle": {"field": "a", "type": "quantitative", "scale": null}
 }
},
{
 "data": {"name": "labels"},
 "mark": {"type": "text", "font": "Liberation Sans", "fontSize": 11.5, "fontWeight": "bold", "color": "#1a1a1a", "baseline": "middle"},
 "encoding": {
  "x": {"field": "s", "type": "quantitative"}, "y": {"field": "F", "type": "quantitative"},
  "text": {"field": "t"},
  "align": {"field": "al", "type": "nominal", "scale": null}
 }
}
],
"resolve": {"scale": {"color": "independent"}}
}
